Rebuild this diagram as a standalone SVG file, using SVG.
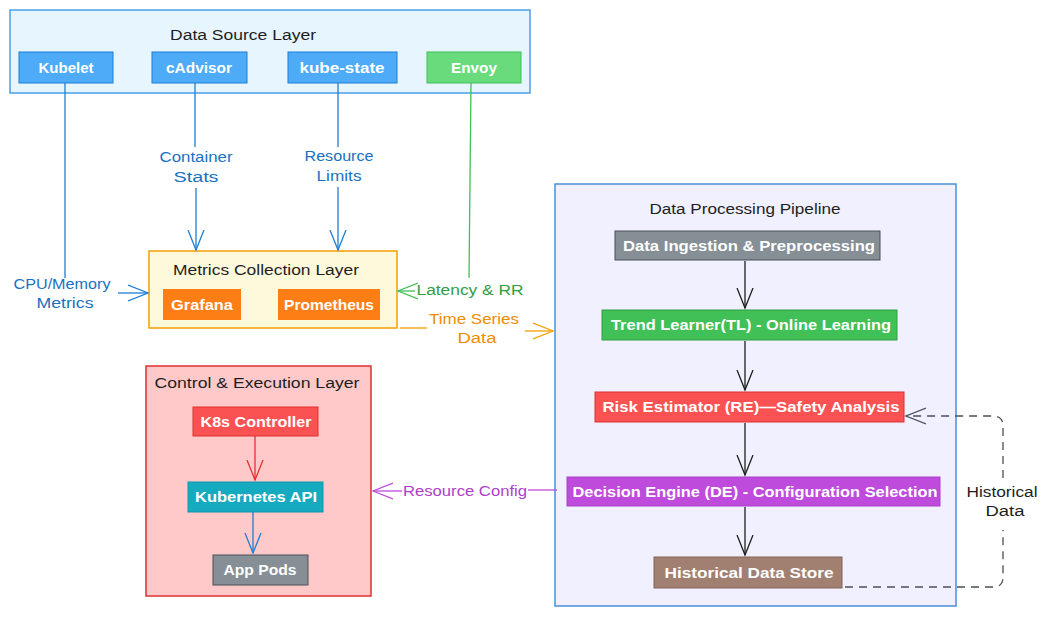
<svg xmlns="http://www.w3.org/2000/svg" width="1051" height="617" viewBox="0 0 1051 617">
<style>
text{font-family:"Liberation Sans","DejaVu Sans",sans-serif;}
.t{font-size:15.5px;fill:#1e1e1e;text-anchor:middle;}
.n{font-size:15.5px;fill:#ffffff;text-anchor:middle;font-weight:bold;}
.lbl{font-size:15.5px;text-anchor:middle;}
.c{fill:none;stroke-width:1.3;}
</style>
<defs>
<marker id="mb" markerUnits="userSpaceOnUse" markerWidth="24" markerHeight="24" refX="20" refY="12" orient="auto"><path d="M0,4 L20,12 L0,20" fill="none" stroke="#1c7ed6" stroke-width="1.3"/></marker>
<marker id="mg" markerUnits="userSpaceOnUse" markerWidth="24" markerHeight="24" refX="20" refY="12" orient="auto"><path d="M0,4 L20,12 L0,20" fill="none" stroke="#40c057" stroke-width="1.3"/></marker>
<marker id="mo" markerUnits="userSpaceOnUse" markerWidth="24" markerHeight="24" refX="20" refY="12" orient="auto"><path d="M0,4 L20,12 L0,20" fill="none" stroke="#f59f00" stroke-width="1.3"/></marker>
<marker id="mk" markerUnits="userSpaceOnUse" markerWidth="24" markerHeight="24" refX="20" refY="12" orient="auto"><path d="M0,4 L20,12 L0,20" fill="none" stroke="#1e1e1e" stroke-width="1.3"/></marker>
<marker id="mr" markerUnits="userSpaceOnUse" markerWidth="24" markerHeight="24" refX="20" refY="12" orient="auto"><path d="M0,4 L20,12 L0,20" fill="none" stroke="#e03131" stroke-width="1.3"/></marker>
<marker id="mp" markerUnits="userSpaceOnUse" markerWidth="24" markerHeight="24" refX="20" refY="12" orient="auto"><path d="M0,4 L20,12 L0,20" fill="none" stroke="#be4bdb" stroke-width="1.3"/></marker>
<marker id="md" markerUnits="userSpaceOnUse" markerWidth="24" markerHeight="24" refX="20" refY="12" orient="auto"><path d="M0,4 L20,12 L0,20" fill="none" stroke="#495057" stroke-width="1.3"/></marker>
</defs>
<rect width="1051" height="617" fill="#ffffff"/>

<g id="data-source-layer">
<rect x="10" y="10" width="520" height="83" fill="#e7f5ff" stroke="#4a9eea" stroke-width="1.5"/>
<text class="t" x="243" y="40" textLength="146" lengthAdjust="spacingAndGlyphs">Data Source Layer</text>
</g>
<g id="kubelet"><rect x="19" y="52" width="94" height="31" fill="#4dabf7" stroke="#1c7ed6"/><text class="n" x="66" y="73" textLength="55" lengthAdjust="spacingAndGlyphs">Kubelet</text></g>
<g id="cadvisor"><rect x="152" y="52" width="95" height="31" fill="#4dabf7" stroke="#1c7ed6"/><text class="n" x="199" y="73" textLength="66" lengthAdjust="spacingAndGlyphs">cAdvisor</text></g>
<g id="kube-state"><rect x="288" y="52" width="109" height="31" fill="#4dabf7" stroke="#1c7ed6"/><text class="n" x="342" y="73" textLength="85" lengthAdjust="spacingAndGlyphs">kube-state</text></g>
<g id="envoy"><rect x="427" y="52" width="94" height="31" fill="#69db7c" stroke="#40c057"/><text class="n" x="474" y="73" textLength="46" lengthAdjust="spacingAndGlyphs">Envoy</text></g>

<g id="metrics-collection-layer">
<rect x="149" y="251" width="248" height="77" fill="#fff9db" stroke="#f59f00" stroke-width="1.5"/>
<text class="t" x="266" y="275" textLength="186" lengthAdjust="spacingAndGlyphs">Metrics Collection Layer</text>
</g>
<g id="grafana"><rect x="163" y="289" width="78" height="31" fill="#fd7e14"/><text class="n" x="202" y="310" textLength="62" lengthAdjust="spacingAndGlyphs">Grafana</text></g>
<g id="prometheus"><rect x="278" y="289" width="102" height="31" fill="#fd7e14"/><text class="n" x="329" y="310" textLength="90" lengthAdjust="spacingAndGlyphs">Prometheus</text></g>

<g id="data-processing-pipeline">
<rect x="555" y="184" width="401" height="422" fill="#f0f0fe" stroke="#4a90d9" stroke-width="1.5"/>
<text class="t" x="745" y="214" textLength="191" lengthAdjust="spacingAndGlyphs">Data Processing Pipeline</text>
</g>
<g id="data-ingestion"><rect x="615" y="231" width="265" height="29" fill="#868e96" stroke="#495057"/><text class="n" x="749" y="251" textLength="252" lengthAdjust="spacingAndGlyphs">Data Ingestion &amp; Preprocessing</text></g>
<g id="trend-learner"><rect x="602" y="310" width="295" height="30" fill="#40c057" stroke="#2f9e44"/><text class="n" x="751" y="330" textLength="280" lengthAdjust="spacingAndGlyphs">Trend Learner(TL) - Online Learning</text></g>
<g id="risk-estimator"><rect x="595" y="392" width="309" height="30" fill="#fa5252" stroke="#e03131"/><text class="n" x="751" y="412" textLength="297" lengthAdjust="spacingAndGlyphs">Risk Estimator (RE)—Safety Analysis</text></g>
<g id="decision-engine"><rect x="567" y="477" width="373" height="29" fill="#be4bdb" stroke="#ae3ec9"/><text class="n" x="755" y="497" textLength="365" lengthAdjust="spacingAndGlyphs">Decision Engine (DE) - Configuration Selection</text></g>
<g id="historical-data-store"><rect x="654" y="557" width="188" height="31" fill="#a18072" stroke="#846358"/><text class="n" x="749" y="578" textLength="169" lengthAdjust="spacingAndGlyphs">Historical Data Store</text></g>

<g id="control-execution-layer">
<rect x="146" y="366" width="225" height="230" fill="#ffc9c9" stroke="#e03131" stroke-width="1.5"/>
<text class="t" x="257" y="388" textLength="205" lengthAdjust="spacingAndGlyphs">Control &amp; Execution Layer</text>
</g>
<g id="k8s-controller"><rect x="193" y="407" width="125" height="29" fill="#fa5252" stroke="#e03131"/><text class="n" x="256" y="427" textLength="111" lengthAdjust="spacingAndGlyphs">K8s Controller</text></g>
<g id="kubernetes-api"><rect x="188" y="482" width="135" height="30" fill="#15aabf" stroke="#1098ad"/><text class="n" x="256" y="502" textLength="122" lengthAdjust="spacingAndGlyphs">Kubernetes API</text></g>
<g id="app-pods"><rect x="213" y="555" width="95" height="30" fill="#868e96" stroke="#495057"/><text class="n" x="260" y="575" textLength="73" lengthAdjust="spacingAndGlyphs">App Pods</text></g>

<g id="connectors">
<path class="c" d="M65,83 V278" stroke="#1c7ed6"/>
<path class="c" d="M118,293 H148" stroke="#1c7ed6" marker-end="url(#mb)"/>
<text class="lbl" x="62" y="289" fill="#1971c2" textLength="97" lengthAdjust="spacingAndGlyphs">CPU/Memory</text>
<text class="lbl" x="65" y="308" fill="#1971c2" textLength="57" lengthAdjust="spacingAndGlyphs">Metrics</text>

<path class="c" d="M195,83 V147" stroke="#1c7ed6"/>
<path class="c" d="M196,188 V250" stroke="#1c7ed6" marker-end="url(#mb)"/>
<text class="lbl" x="196" y="162" fill="#1971c2" textLength="73" lengthAdjust="spacingAndGlyphs">Container</text>
<text class="lbl" x="196" y="182" fill="#1971c2" textLength="45" lengthAdjust="spacingAndGlyphs">Stats</text>

<path class="c" d="M338,83 V147" stroke="#1c7ed6"/>
<path class="c" d="M338,187 V250" stroke="#1c7ed6" marker-end="url(#mb)"/>
<text class="lbl" x="339" y="161" fill="#1971c2" textLength="69" lengthAdjust="spacingAndGlyphs">Resource</text>
<text class="lbl" x="339" y="181" fill="#1971c2" textLength="45" lengthAdjust="spacingAndGlyphs">Limits</text>

<path class="c" d="M471,83 L469,278" stroke="#40c057"/>
<path class="c" d="M415,291 H398" stroke="#40c057" marker-end="url(#mg)"/>
<text class="lbl" x="470" y="295" fill="#2f9e44" textLength="107" lengthAdjust="spacingAndGlyphs">Latency &amp; RR</text>

<path class="c" d="M400,328 H427" stroke="#f59f00"/>
<path class="c" d="M525,331 H553" stroke="#f59f00" marker-end="url(#mo)"/>
<text class="lbl" x="474" y="324" fill="#f08c00" textLength="90" lengthAdjust="spacingAndGlyphs">Time Series</text>
<text class="lbl" x="477" y="343" fill="#f08c00" textLength="39" lengthAdjust="spacingAndGlyphs">Data</text>

<path class="c" d="M745,261 V308" stroke="#1e1e1e" marker-end="url(#mk)"/>
<path class="c" d="M745,341 V390" stroke="#1e1e1e" marker-end="url(#mk)"/>
<path class="c" d="M745,423 V475" stroke="#1e1e1e" marker-end="url(#mk)"/>
<path class="c" d="M745,507 V555" stroke="#1e1e1e" marker-end="url(#mk)"/>

<path class="c" d="M845,587 H993 Q1003,587 1003,577 V530" stroke="#495057" stroke-dasharray="8,6"/>
<path class="c" d="M1003,478 V426 Q1003,416 993,416 H906" stroke="#495057" stroke-dasharray="8,6" marker-end="url(#md)"/>
<text class="lbl" x="1002" y="497" fill="#1e1e1e" textLength="71" lengthAdjust="spacingAndGlyphs">Historical</text>
<text class="lbl" x="1005" y="516" fill="#1e1e1e" textLength="39" lengthAdjust="spacingAndGlyphs">Data</text>

<path class="c" d="M255,436 V480" stroke="#e03131" marker-end="url(#mr)"/>
<path class="c" d="M253,512 V553" stroke="#1c7ed6" marker-end="url(#mb)"/>

<path class="c" d="M557,490 H528" stroke="#be4bdb"/>
<path class="c" d="M402,491 H373" stroke="#be4bdb" marker-end="url(#mp)"/>
<text class="lbl" x="465" y="496" fill="#ae3ec9" textLength="124" lengthAdjust="spacingAndGlyphs">Resource Config</text>
</g>
</svg>
